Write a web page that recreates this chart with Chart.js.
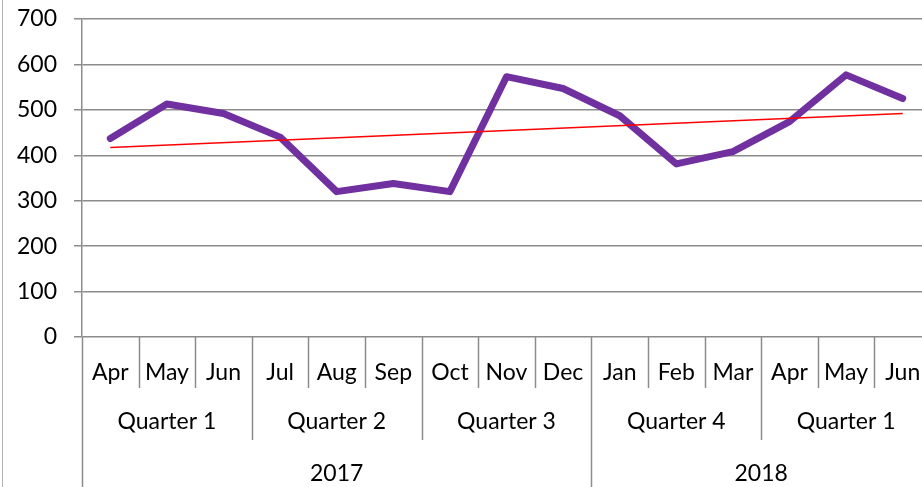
<!DOCTYPE html>
<html>
<head>
<meta charset="utf-8">
<script src="https://cdn.jsdelivr.net/npm/chart.js"></script>
<style>
  html, body { margin: 0; padding: 0; background: #fff; overflow: hidden; }
  #wrap { width: 931px; height: 487px; }
</style>
</head>
<body>
<div id="wrap"><canvas id="line-chart" width="931" height="487"></canvas></div>
<script>
// months along the axis (Apr 2017 - Jun 2018)
var months = ['Apr','May','Jun','Jul','Aug','Sep','Oct','Nov','Dec','Jan','Feb','Mar','Apr','May','Jun'];
var quarters = ['Quarter 1','Quarter 2','Quarter 3','Quarter 4','Quarter 1'];
var quarterSize = [3, 3, 3, 3, 3];
var years = ['2017','2018'];
var yearSize = [9, 6];

var sales = [437, 513, 492, 440, 320, 338, 320, 573, 547, 487, 381, 408, 474, 577, 525];
// linear trendline, start and end values
var trendStart = 417;
var trendEnd = 492;

var yTicks = [0, 100, 200, 300, 400, 500, 600, 700];

var FONT = 'Lato';
var GRID = '#8c8c8c';

var trend = months.map(function(m, i) {
  if (i == 0) return trendStart;
  if (i == months.length - 1) return trendEnd;
  return null;
});

// draws the month/quarter/year separators and the group labels under the axis
var groupAxis = {
  id: 'groupAxis',
  beforeDraw: function(chart) {
    var ctx = chart.ctx;
    ctx.save();
    ctx.strokeStyle = '#b4b4b4';
    ctx.lineWidth = 1;
    ctx.beginPath();
    ctx.moveTo(2.5, 0);
    ctx.lineTo(2.5, chart.height);
    ctx.stroke();
    ctx.restore();
  },
  afterDraw: function(chart) {
    var ctx = chart.ctx;
    var x = chart.scales.x;
    var area = chart.chartArea;
    var step = x.getPixelForValue(1) - x.getPixelForValue(0);
    function edge(i) { return x.getPixelForValue(i) - step / 2; }

    var qEnds = [], yEnds = [], n = 0;
    quarterSize.forEach(function(s) { n += s; qEnds.push(n); });
    n = 0;
    yearSize.forEach(function(s) { n += s; yEnds.push(n); });

    ctx.save();
    ctx.strokeStyle = GRID;
    ctx.lineWidth = 1.5;
    for (var i = 0; i < months.length; i++) {
      var bottom = area.bottom + 51;
      if (qEnds.indexOf(i) >= 0) bottom = area.bottom + 103;
      if (i == 0 || yEnds.indexOf(i) >= 0) bottom = chart.height;
      var px = Math.round(edge(i)) + 0.5;
      ctx.beginPath();
      ctx.moveTo(px, area.bottom);
      ctx.lineTo(px, bottom);
      ctx.stroke();
    }

    ctx.fillStyle = '#000';
    ctx.font = '23px ' + FONT;
    ctx.textAlign = 'center';
    ctx.textBaseline = 'middle';
    var start = 0;
    quarters.forEach(function(q, k) {
      var cx = (edge(start) + edge(start + quarterSize[k])) / 2;
      ctx.fillText(q, cx, area.bottom + 85);
      start += quarterSize[k];
    });
    start = 0;
    years.forEach(function(yr, k) {
      var cx = (edge(start) + edge(start + yearSize[k])) / 2;
      ctx.fillText(yr, cx, area.bottom + 137);
      start += yearSize[k];
    });
    ctx.restore();
  }
};

var mychart = new Chart(document.getElementById('line-chart'), {
  type: 'line',
  data: {
    labels: months,
    datasets: [{
      data: trend,
      borderColor: '#ff0000',
      borderWidth: 1.5,
      pointRadius: 0,
      spanGaps: true,
      fill: false,
      order: 0
    }, {
      data: sales,
      borderColor: '#7030a0',
      borderWidth: 7,
      borderCapStyle: 'round',
      borderJoinStyle: 'round',
      pointRadius: 0,
      tension: 0,
      fill: false,
      order: 1
    }]
  },
  options: {
    responsive: false,
    animation: false,
    layout: { padding: { top: 19, left: 0, right: 0, bottom: 0 } },
    plugins: {
      legend: { display: false },
      tooltip: { enabled: false }
    },
    scales: {
      x: {
        offset: true,
        grid: { display: false, offset: true },
        border: { display: false },
        ticks: {
          color: '#000',
          font: { family: FONT, size: 23 },
          padding: 14,
          maxRotation: 0,
          autoSkip: false
        },
        afterFit: function(scale) {
          scale.height = 150;
          scale.paddingLeft = 0;
          scale.paddingRight = 0;
        }
      },
      y: {
        min: 0,
        max: 700,
        afterBuildTicks: function(scale) {
          scale.ticks = yTicks.map(function(v) { return { value: v }; });
        },
        grid: { color: GRID, lineWidth: 1.5, tickLength: 8 },
        border: { color: GRID, width: 1.5 },
        ticks: {
          color: '#000',
          font: { family: FONT, size: 23 },
          padding: 17
        },
        afterFit: function(scale) {
          scale.width = 82;
          scale.paddingTop = 0;
          scale.paddingBottom = 0;
        }
      }
    }
  },
  plugins: [groupAxis]
});
</script>
</body>
</html>
